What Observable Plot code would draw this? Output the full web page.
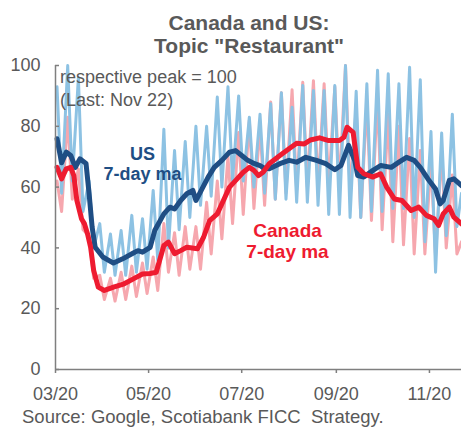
<!DOCTYPE html>
<html><head><meta charset="utf-8">
<script src="https://cdn.jsdelivr.net/npm/d3@7"></script>
<script src="https://cdn.jsdelivr.net/npm/@observablehq/plot@0.6"></script>
<style>
body{margin:0;background:#fff;font-family:"Liberation Sans",Arial,sans-serif;}
#wrap{position:relative;width:461px;height:427px;overflow:hidden;}
#title{position:absolute;left:0;top:11px;width:498px;text-align:center;font-weight:bold;font-size:21px;line-height:23px;color:#595959;}
#source{position:absolute;left:22px;top:408px;font-size:18.5px;line-height:18.5px;color:#595959;white-space:pre;}
</style></head><body>
<div id="wrap"><div id="chart"></div>
<div id="title">Canada and US:<br>Topic "Restaurant"</div>
<div id="source">Source: Google, Scotiabank FICC  Strategy.</div></div>
<script>
const dailyDates = ["2020-03-02","2020-03-05","2020-03-09","2020-03-12","2020-03-16","2020-03-19","2020-03-23","2020-03-26","2020-03-30","2020-04-02","2020-04-06","2020-04-09","2020-04-13","2020-04-16","2020-04-20","2020-04-23","2020-04-27","2020-04-30","2020-05-04","2020-05-07","2020-05-11","2020-05-14","2020-05-18","2020-05-21","2020-05-25","2020-05-28","2020-06-01","2020-06-04","2020-06-08","2020-06-11","2020-06-15","2020-06-18","2020-06-22","2020-06-25","2020-06-29","2020-07-02","2020-07-06","2020-07-09","2020-07-13","2020-07-16","2020-07-20","2020-07-23","2020-07-27","2020-07-30","2020-08-03","2020-08-06","2020-08-10","2020-08-13","2020-08-17","2020-08-20","2020-08-24","2020-08-27","2020-08-31","2020-09-03","2020-09-07","2020-09-10","2020-09-14","2020-09-17","2020-09-21","2020-09-24","2020-09-28","2020-10-01","2020-10-05","2020-10-08","2020-10-12","2020-10-15","2020-10-19","2020-10-22","2020-10-26","2020-10-29","2020-11-02","2020-11-05","2020-11-09","2020-11-12","2020-11-16","2020-11-19","2020-11-22"];
const usDaily = [93,58, 100,62, 96,52, 62,40, 48,32, 44.6,31, 45.7,31, 50.7,32, 49.6,33, 58.9,36, 79,40, 72,46, 75,50, 80,54, 80,57, 89.6,60, 93,62, 90,62, 83,60, 84,58, 87.4,56, 91,56, 86.3,55, 93.4,55, 91.8,54, 91.8,51, 93.4,51, 100,50, 91.5,50, 94,52, 98.4,52, 97.3,53, 94,53, 99.4,50, 95.3,42, 78.3,32, 77.8,44, 84,47, 58];
const caDaily = [62,52, 83,56, 66,46, 44,30, 31,23, 30,22.5, 32,23, 34,24, 35,25, 37,26, 48,32, 45,31, 47,33, 47,33, 55,38, 62,43, 70,48, 78,51, 82,53, 80,54, 88,56, 91,58, 92,59, 94.5,60, 95,60, 94,60, 93,60, 100,58, 86,50, 88,49, 89.6,46, 84,42, 80,41, 76,38, 72,38, 68,37, 72,40, 64,38, 42];

const usMaDates = ["2020-03-02","2020-03-05","2020-03-08","2020-03-11","2020-03-14","2020-03-17","2020-03-21","2020-03-23","2020-03-25","2020-03-27","2020-04-01","2020-04-08","2020-04-14","2020-04-21","2020-04-24","2020-04-27","2020-05-02","2020-05-05","2020-05-11","2020-05-15","2020-05-18","2020-05-22","2020-05-26","2020-05-30","2020-06-01","2020-06-05","2020-06-09","2020-06-13","2020-06-18","2020-06-23","2020-06-27","2020-07-01","2020-07-05","2020-07-09","2020-07-13","2020-07-15","2020-07-19","2020-07-26","2020-08-01","2020-08-06","2020-08-12","2020-08-19","2020-08-25","2020-08-31","2020-09-04","2020-09-09","2020-09-13","2020-09-15","2020-09-19","2020-09-25","2020-09-30","2020-10-07","2020-10-12","2020-10-17","2020-10-22","2020-10-26","2020-10-31","2020-11-05","2020-11-08","2020-11-10","2020-11-14","2020-11-17","2020-11-22"];
const usMa = [75.9,68,71.5,70.4,66.5,69.3,67.8,57.9,46.8,40.2,37,35,36.4,38.3,39.1,38.6,40.2,45.7,51.2,53.4,52.8,55.6,57.8,58.9,55.6,59.4,63.3,66.5,68.8,71.5,72,70.4,68.8,67.8,67.1,66.4,66,67.7,68.8,68.2,69.8,68.8,67.7,65.7,67.1,73.7,68.8,63.8,63.3,65.5,67.1,66.5,68.2,69.8,68.8,66.5,62.7,59.4,54.5,55.6,62.2,62.7,60.5];

const caMaDates = ["2020-03-02","2020-03-05","2020-03-08","2020-03-11","2020-03-13","2020-03-15","2020-03-18","2020-03-20","2020-03-22","2020-03-24","2020-03-26","2020-03-29","2020-04-02","2020-04-08","2020-04-15","2020-04-21","2020-04-27","2020-05-02","2020-05-06","2020-05-11","2020-05-14","2020-05-18","2020-05-22","2020-05-26","2020-06-02","2020-06-06","2020-06-10","2020-06-15","2020-06-19","2020-06-23","2020-06-28","2020-07-02","2020-07-06","2020-07-09","2020-07-12","2020-07-15","2020-07-19","2020-07-26","2020-08-01","2020-08-06","2020-08-11","2020-08-15","2020-08-21","2020-08-27","2020-09-03","2020-09-06","2020-09-08","2020-09-12","2020-09-13","2020-09-15","2020-09-19","2020-09-25","2020-09-30","2020-10-04","2020-10-09","2020-10-14","2020-10-20","2020-10-25","2020-10-30","2020-11-04","2020-11-07","2020-11-10","2020-11-14","2020-11-17","2020-11-22"];
const caMa = [66.5,62.7,66,66.5,63.8,55.6,49.6,47.9,44.6,40.2,32.6,27.1,26,27.1,28.2,29.8,31.4,31.6,32,40.8,41.9,38.1,39.1,40.2,39.7,43.5,49,51.2,55.6,60,62.7,64.9,66.5,65.5,63.8,64.9,67.7,70.4,72.6,74.4,74.2,75.5,76.2,75.3,75.3,76.4,79.7,78,74.2,66.5,64.4,63.3,64.4,60,56.1,55.6,52.3,53.4,50.7,49.6,47.4,51.2,53.4,50.1,47.9];

const xTickDates = ["2020-03-01","2020-05-01","2020-07-01","2020-09-01","2020-11-01"];
const yTicks = [0,20,40,60,80,100];
const xDomain = ["2020-03-01","2020-11-22"];

const parse = d3.utcParse("%Y-%m-%d");
const daily = dailyDates.map((d,i)=>({date:parse(d), us:usDaily[i], ca:caDaily[i]}));
const usMaData = usMaDates.map((d,i)=>({date:parse(d), v:usMa[i]}));
const caMaData = caMaDates.map((d,i)=>({date:parse(d), v:caMa[i]}));
const xStart = parse(xDomain[0]);

const labels = [
  {date: parse("2020-04-27"), v: 62.2, text: "US\n7-day ma", color: "#1f4e84", size: 18},
  {date: parse("2020-07-31"), v: 36.6, text: "Canada\n7-day ma", color: "#ee1b30", size: 19}
];

const chart = Plot.plot({
  width: 461, height: 427,
  marginLeft: 55, marginRight: 0, marginTop: 65, marginBottom: 58,
  style: {fontFamily: "'Liberation Sans', Arial, sans-serif", fontSize: "18px", color: "#595959", background: "white", overflow: "visible"},
  x: {type: "utc", domain: xDomain.map(parse)},
  y: {domain: [0, 100]},
  marks: [
    Plot.line(daily, {x: "date", y: "ca", stroke: "#f6a7ae", strokeWidth: 3, strokeLinejoin: "round"}),
    Plot.line(daily, {x: "date", y: "us", stroke: "#8dc2e3", strokeWidth: 3, strokeLinejoin: "round"}),
    Plot.line(usMaData, {x: "date", y: "v", stroke: "#1f4e84", strokeWidth: 5, strokeLinejoin: "round"}),
    Plot.line(caMaData, {x: "date", y: "v", stroke: "#ee1b30", strokeWidth: 5, strokeLinejoin: "round"}),
    Plot.ruleX([xStart], {stroke: "#7f7f7f", strokeWidth: 1.5}),
    Plot.ruleY([0], {stroke: "#7f7f7f", strokeWidth: 1.5}),
    Plot.axisX({ticks: xTickDates.map(parse), tickFormat: d3.utcFormat("%m/%y"), tickSize: 4, tickPadding: 14, stroke: "#7f7f7f", strokeWidth: 1.5, label: null, fontSize: 18}),
    Plot.axisY({ticks: yTicks, tickSize: -4, tickPadding: 19, stroke: "#7f7f7f", strokeWidth: 1.5, label: null, fontSize: 18}),
    Plot.text(labels, {x: "date", y: "v", text: "text", fill: "color", fontSize: "size", fontWeight: "bold", lineAnchor: "bottom", lineHeight: 1.12, textAnchor: "middle"}),
    Plot.text(["respective peak = 100\n(Last: Nov 22)"], {x: parse("2020-03-04"), y: 99.5, text: d => d, textAnchor: "start", lineAnchor: "top", lineHeight: 1.28, fontSize: 18, fill: "#595959"})
  ]
});
document.getElementById("chart").appendChild(chart);
</script>
</body></html>
